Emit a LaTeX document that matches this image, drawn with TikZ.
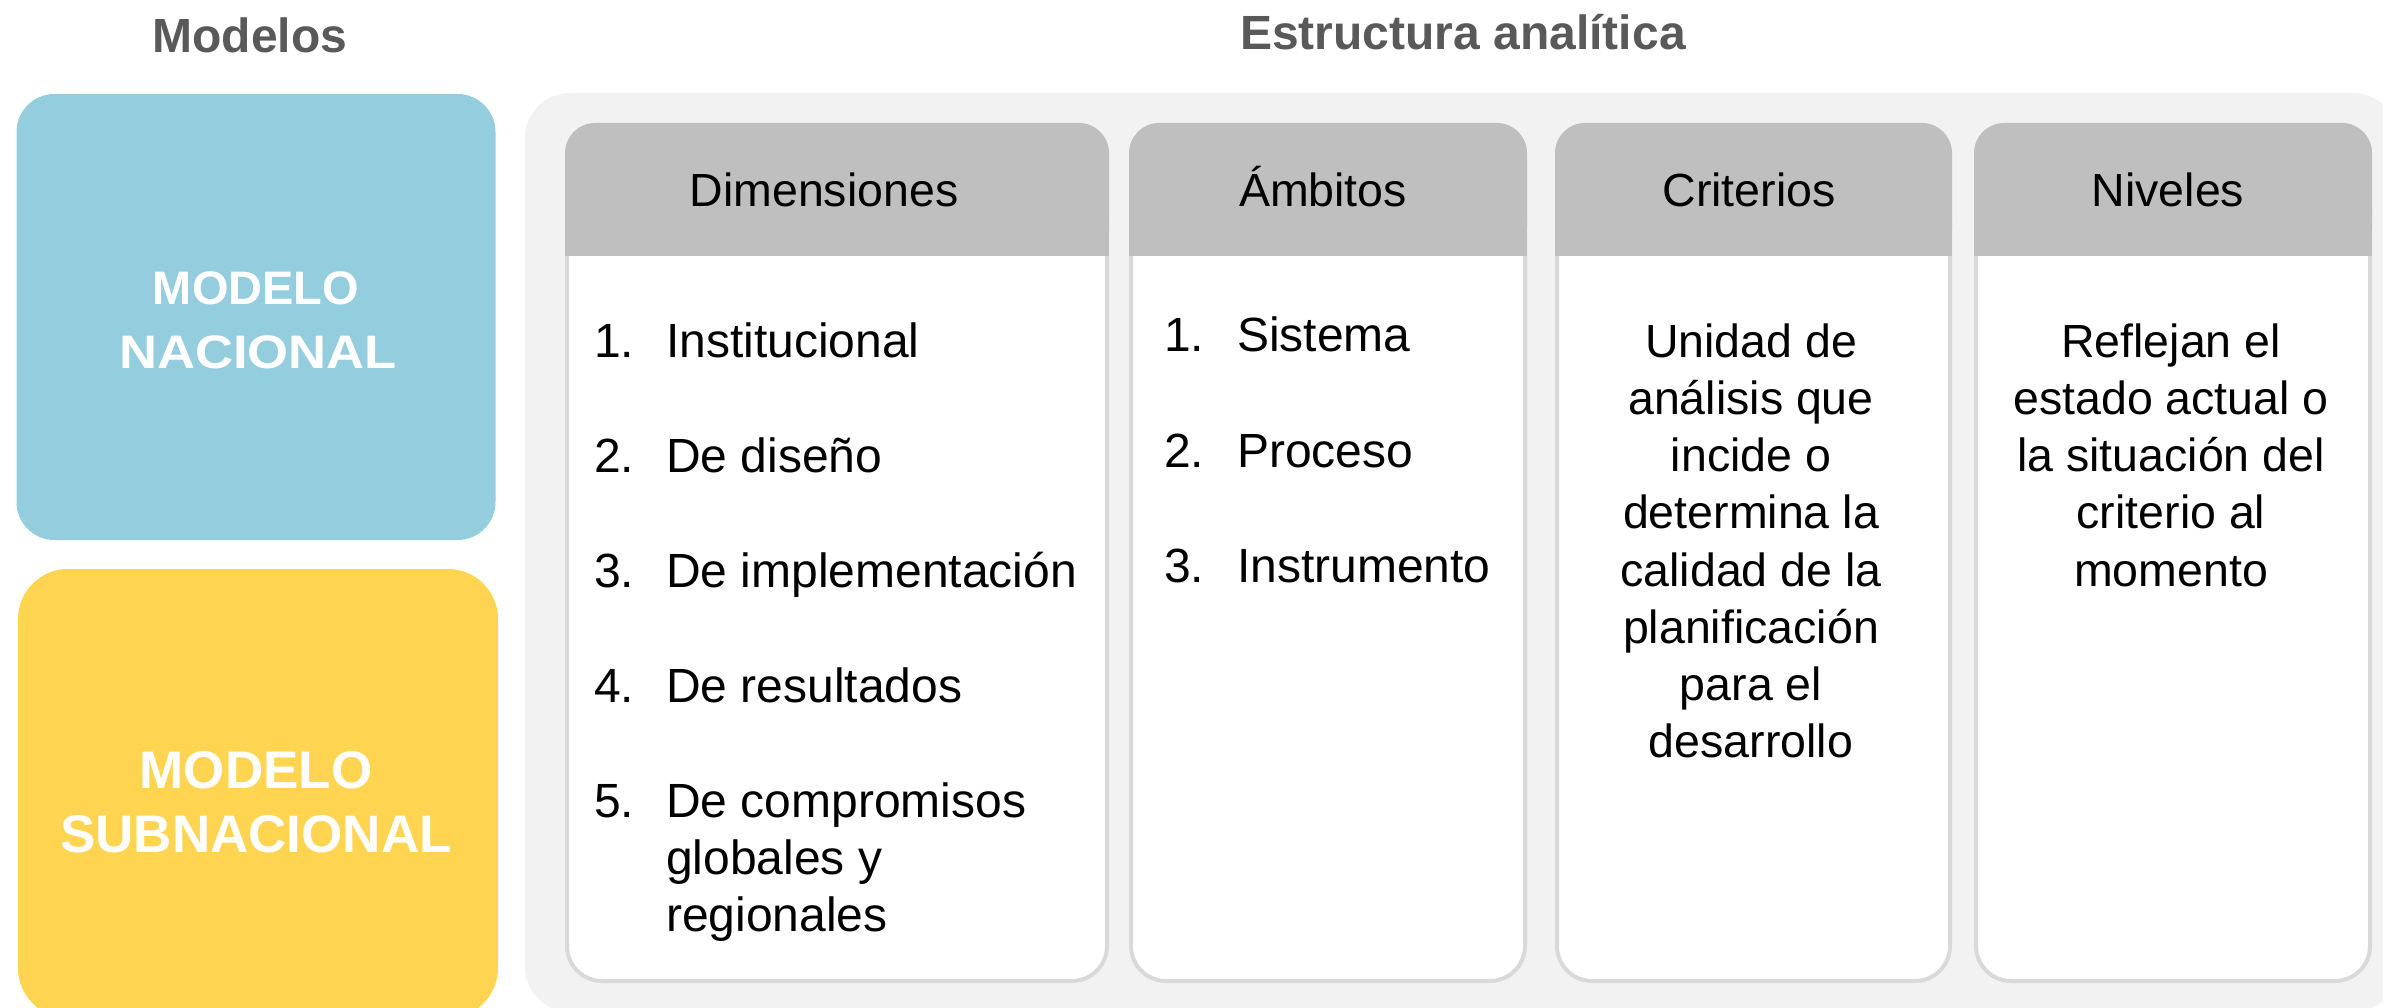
\documentclass[tikz,border=0pt]{standalone}
\usepackage{fontspec}
\setmainfont{Liberation Sans}
\definecolor{nacblue}{RGB}{148,205,221}
\definecolor{subyellow}{RGB}{254,212,80}
\definecolor{panelgray}{RGB}{242,242,242}
\definecolor{hdrgray}{RGB}{191,191,191}
\definecolor{cardline}{RGB}{217,217,217}
\definecolor{titlegray}{RGB}{89,89,89}
\newcommand{\tallfirst}{\rule{0pt}{45pt}}
\tikzset{
  headtitle/.style={font=\fontsize{48}{56}\selectfont\bfseries, text=titlegray, inner sep=0, anchor=base},
  modelbox/.style={inner sep=0, outer sep=0, draw=none},
  nactxt/.style={font=\fontsize{47}{63}\selectfont\bfseries, text=white, inner sep=0, anchor=base},
  subtxt/.style={font=\fontsize{53}{64}\selectfont\bfseries, text=white, inner sep=0, anchor=base},
  cardbody/.style={fill=white, draw=cardline, line width=4pt, rounded corners=35pt},
  cardhead/.style={fill=hdrgray, rounded corners=30pt},
  hdrtxt/.style={font=\fontsize{46.5}{57.2}\selectfont, inner sep=0, anchor=base},
  itemtxt/.style={font=\fontsize{48}{57}\selectfont, inner sep=0, anchor=base west},
  blocktxt/.style={font=\fontsize{46.5}{57.2}\selectfont, inner sep=0, align=center, anchor=north},
}
\begin{document}
\begin{tikzpicture}[x=1pt, y=-1pt]
\path[use as bounding box] (0,0) rectangle (2383,1008);
\clip (0,0) rectangle (2383,1008);

% titles
\node[headtitle] (tmod) at (250,53) {Modelos};
\node[headtitle] (test) at (1463,50) {Estructura analítica};

% model boxes
\node[modelbox, fill=nacblue, rounded corners=38pt, minimum width=479pt, minimum height=446pt] (nacbox) at (256,317) {};
\node[nactxt] (nac1) at (256,305) {MODELO};
\node[nactxt] (nac2) at (258,368) {\scalebox{1.12}[1]{NACIONAL}};
\node[modelbox, fill=subyellow, rounded corners=50pt, minimum width=480pt, minimum height=449pt] (subbox) at (258,793.5) {};
\node[subtxt] (sub1) at (256,788) {MODELO};
\node[subtxt] (sub2) at (256,852) {SUBNACIONAL};

% panel
\fill[panelgray, rounded corners=45pt] (525,93) rectangle (2398,1012);

% card bodies
\path[cardbody] (567,180) rectangle (1107,981);
\path[cardbody] (1131,180) rectangle (1525,981);
\path[cardbody] (1557,180) rectangle (1950,981);
\path[cardbody] (1976,180) rectangle (2370,981);

% card headers
\fill[cardhead] (565,123) rectangle (1109,256);
\fill[hdrgray] (565,200) rectangle (1109,256);
\fill[cardhead] (1129,123) rectangle (1527,256);
\fill[hdrgray] (1129,200) rectangle (1527,256);
\fill[cardhead] (1555,123) rectangle (1952,256);
\fill[hdrgray] (1555,200) rectangle (1952,256);
\fill[cardhead] (1974,123) rectangle (2372,256);
\fill[hdrgray] (1974,200) rectangle (2372,256);

\node[hdrtxt] (hdim) at (824,207) {Dimensiones};
\node[hdrtxt] (hamb) at (1323,207) {Ámbitos};
\node[hdrtxt] (hcri) at (1749,207) {Criterios};
\node[hdrtxt] (hniv) at (2168,207) {Niveles};

% Dimensiones list
\node[itemtxt] (dn1) at (594,357) {1.};
\node[itemtxt] (dt1) at (666,357) {Institucional};
\node[itemtxt] (dn2) at (594,472) {2.};
\node[itemtxt] (dt2) at (666,472) {De diseño};
\node[itemtxt] (dn3) at (594,587) {3.};
\node[itemtxt] (dt3) at (666,587) {De implementación};
\node[itemtxt] (dn4) at (594,702) {4.};
\node[itemtxt] (dt4) at (666,702) {De resultados};
\node[itemtxt] (dn5) at (594,817) {5.};
\node[itemtxt, align=left, anchor=north west] (dt5) at (666,772) {\tallfirst De compromisos\\globales y\\regionales};

% Ambitos list
\node[itemtxt] (an1) at (1164,352) {1.};
\node[itemtxt] (at1) at (1237,352) {Sistema};
\node[itemtxt] (an2) at (1164,467) {2.};
\node[itemtxt] (at2) at (1237,467) {Proceso};
\node[itemtxt] (an3) at (1164,582) {3.};
\node[itemtxt] (at3) at (1237,582) {Instrumento};

% Criterios
\node[blocktxt] (ctxt) at (1751,312) {\tallfirst Unidad de\\análisis que\\incide o\\determina la\\calidad de la\\planificación\\para el\\desarrollo};

% Niveles
\node[blocktxt] (ntxt) at (2171,312) {\tallfirst Reflejan el\\estado actual o\\la situación del\\criterio al\\momento};
\end{tikzpicture}
\end{document}
